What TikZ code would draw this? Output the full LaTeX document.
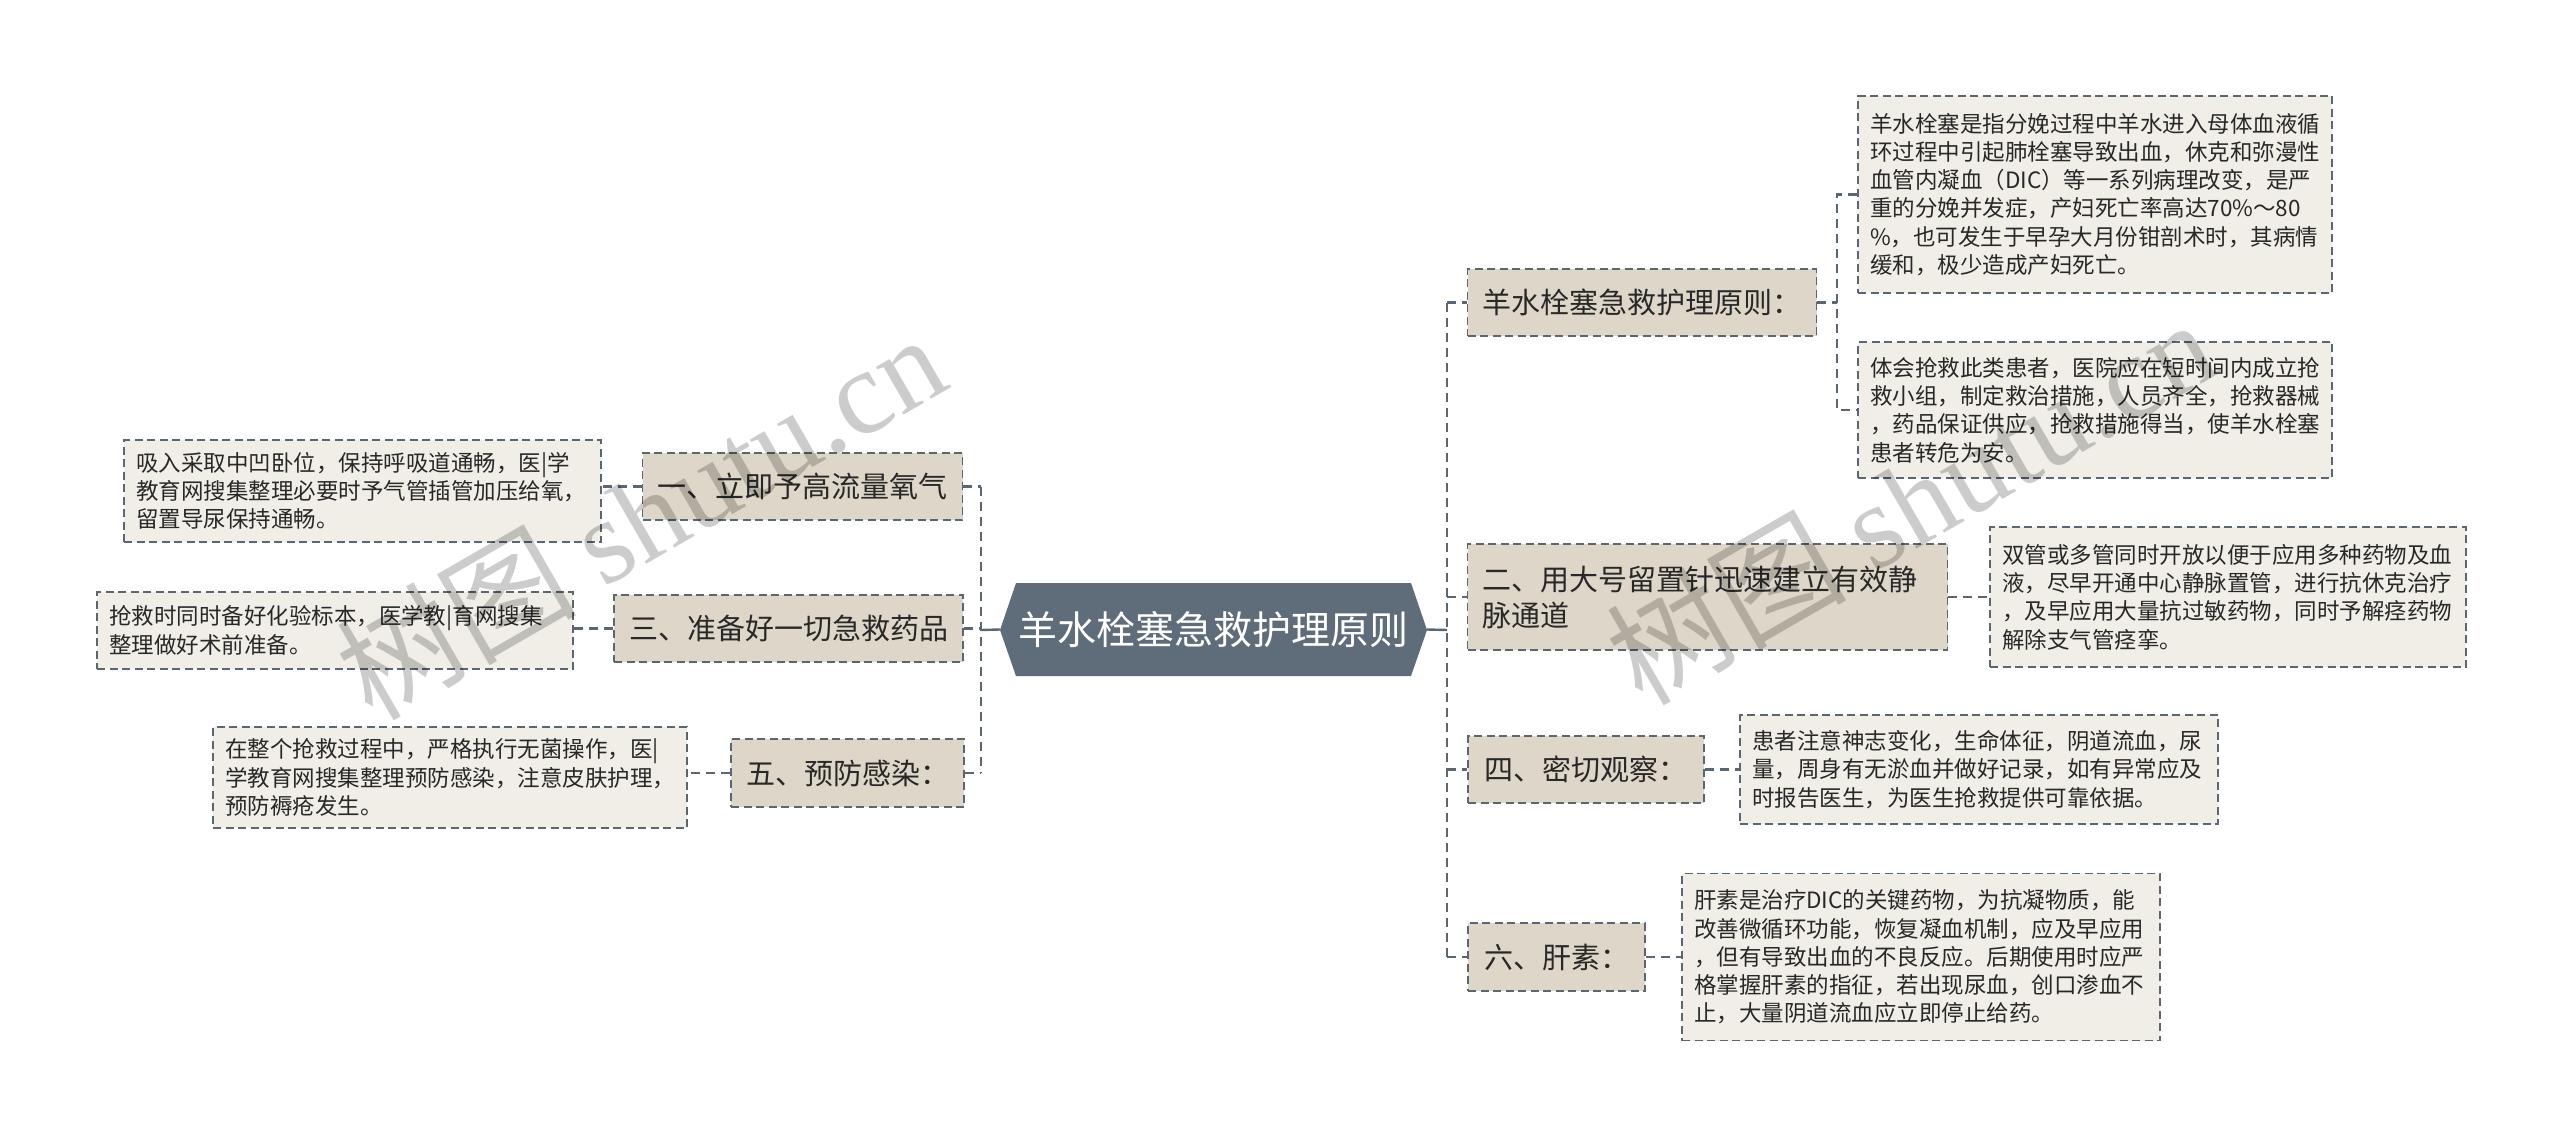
\documentclass[tikz,border=0pt]{standalone}
\usepackage{fontspec}
\setmainfont{Noto Sans CJK SC}
\newfontfamily\wmserif{Liberation Serif}
\definecolor{lineC}{RGB}{90,102,112}
\definecolor{branchC}{RGB}{222,214,200}
\definecolor{leafC}{RGB}{241,238,231}
\definecolor{centerC}{RGB}{94,109,121}
\definecolor{txtC}{RGB}{40,40,40}
\begin{document}
\begin{tikzpicture}[x=1pt,y=-1pt,
  bord/.style={draw=lineC, line width=1.8pt, dash pattern=on 8pt off 4.5pt},
  branch/.style={bord, fill=branchC, rectangle, inner xsep=15pt, inner ysep=0pt, text=txtC, font=\fontsize{29}{36}\selectfont, align=left},
  leaf/.style={bord, fill=leafC, rectangle, inner xsep=12pt, inner ysep=0pt, text=txtC, font=\fontsize{22.5}{28.3}\selectfont, align=left},
  conn/.style={draw=lineC, line width=2.4pt, dash pattern=on 9pt off 6pt},
  solidconn/.style={draw=lineC, line width=2.4pt},
  wm/.style={rotate=30, text=black, opacity=0.2, font=\fontsize{120}{122}\selectfont}
]
\useasboundingbox (0,0) rectangle (2560,1137);
\fill[white] (0,0) rectangle (2560,1137);

% centre
\fill[centerC] (1000,630) -- (1016,583) -- (1411,583) -- (1427,630) -- (1411,676) -- (1016,676) -- cycle;
\node[minimum width=427pt, minimum height=93pt, inner sep=0pt, text=white, font=\fontsize{39}{46}\selectfont] (c) at (1213.5,629.5) {羊水栓塞急救护理原则};

% right branches
\node[branch, minimum width=348pt, minimum height=67pt] (b1) at (1642,302.5) {羊水栓塞急救护理原则：};
\node[branch, text width=450pt, minimum height=106pt] (b2) at (1707.5,597) {二、用大号留置针迅速建立有效静\\脉通道};
\node[branch, minimum width=236pt, minimum height=67pt] (b4) at (1586,769.5) {四、密切观察：};
\node[branch, minimum width=177pt, minimum height=68pt] (b6) at (1556.5,957) {六、肝素：};

\node[leaf, text width=450pt, minimum height=197pt] (l1a) at (2095,194.5) {羊水栓塞是指分娩过程中羊水进入母体血液循\\环过程中引起肺栓塞导致出血，休克和弥漫性\\血管内凝血（DIC）等一系列病理改变，是严\\重的分娩并发症，产妇死亡率高达70\%～80\\\%，也可发生于早孕大月份钳剖术时，其病情\\缓和，极少造成产妇死亡。};
\node[leaf, text width=452pt, minimum height=140pt] (l2) at (2228,597) {双管或多管同时开放以便于应用多种药物及血\\液，尽早开通中心静脉置管，进行抗休克治疗\\，及早应用大量抗过敏药物，同时予解痉药物\\解除支气管痉挛。};
\node[leaf, text width=450pt, minimum height=136pt] (l1b) at (2095,410) {体会抢救此类患者，医院应在短时间内成立抢\\救小组，制定救治措施，人员齐全，抢救器械\\，药品保证供应，抢救措施得当，使羊水栓塞\\患者转危为安。};
\node[leaf, text width=454pt, minimum height=109pt] (l4) at (1979,769.5) {患者注意神志变化，生命体征，阴道流血，尿\\量，周身有无淤血并做好记录，如有异常应及\\时报告医生，为医生抢救提供可靠依据。};
\node[leaf, text width=454pt, minimum height=167pt] (l6) at (1921,957) {肝素是治疗DIC的关键药物，为抗凝物质，能\\改善微循环功能，恢复凝血机制，应及早应用\\，但有导致出血的不良反应。后期使用时应严\\格掌握肝素的指征，若出现尿血，创口渗血不\\止，大量阴道流血应立即停止给药。};

% left branches
\node[branch, minimum width=319pt, minimum height=67pt] (b1L) at (802.5,486.5) {一、立即予高流量氧气};
\node[branch, minimum width=349pt, minimum height=67pt] (b3) at (788.5,628.5) {三、准备好一切急救药品};
\node[branch, minimum width=233pt, minimum height=68pt] (b5) at (847.5,773) {五、预防感染：};

\node[leaf, text width=453pt, minimum height=102pt] (l1L) at (362.5,491) {吸入采取中凹卧位，保持呼吸道通畅，医|学\\教育网搜集整理必要时予气管插管加压给氧，\\留置导尿保持通畅。};
\node[leaf, text width=452pt, minimum height=77pt] (l3) at (335,630.5) {抢救时同时备好化验标本，医学教|育网搜集\\整理做好术前准备。};
\node[leaf, text width=450pt, minimum height=101pt] (l5) at (450,777.5) {在整个抢救过程中，严格执行无菌操作，医|\\学教育网搜集整理预防感染，注意皮肤护理，\\预防褥疮发生。};

% connectors right
\coordinate (rs) at (1447,630);
\draw[solidconn] (c.east) -- (rs);
\draw[conn] (rs |- b1.west) -- (rs |- b6.west);
\draw[conn] (rs |- b1.west) -- (b1.west);
\draw[conn] (rs |- b2.west) -- (b2.west);
\draw[conn] (rs |- b4.west) -- (b4.west);
\draw[conn] (rs |- b6.west) -- (b6.west);
\coordinate (s1) at (1837,302.5);
\draw[conn] (b1.east) -- (s1);
\draw[conn] (l1a.west) -- (l1a.west -| s1) -- (l1b.west -| s1) -- (l1b.west);
\draw[conn] (b2.east) -- (l2.west);
\draw[conn] (b4.east) -- (l4.west);
\draw[conn] (b6.east) -- (l6.west);

% connectors left
\coordinate (ls) at (981,630);
\draw[solidconn] (c.west) -- (ls);
\draw[conn] (ls |- b1L.east) -- (ls |- b5.east);
\draw[conn] (b1L.east) -- (b1L.east -| ls);
\draw[conn] (b3.east) -- (b3.east -| ls);
\draw[conn] (b5.east) -- (b5.east -| ls);
\draw[conn] (b1L.west) -- (b1L.west -| l1L.east);
\draw[conn] (b3.west) -- (b3.west -| l3.east);
\draw[conn] (b5.west) -- (b5.west -| l5.east);

% watermarks
\node[wm] (wm1) at (640,515) {树图 {\wmserif shutu.cn}};
\node[wm] (wm2) at (1910,500) {树图 {\wmserif shutu.cn}};
\end{tikzpicture}
\end{document}
